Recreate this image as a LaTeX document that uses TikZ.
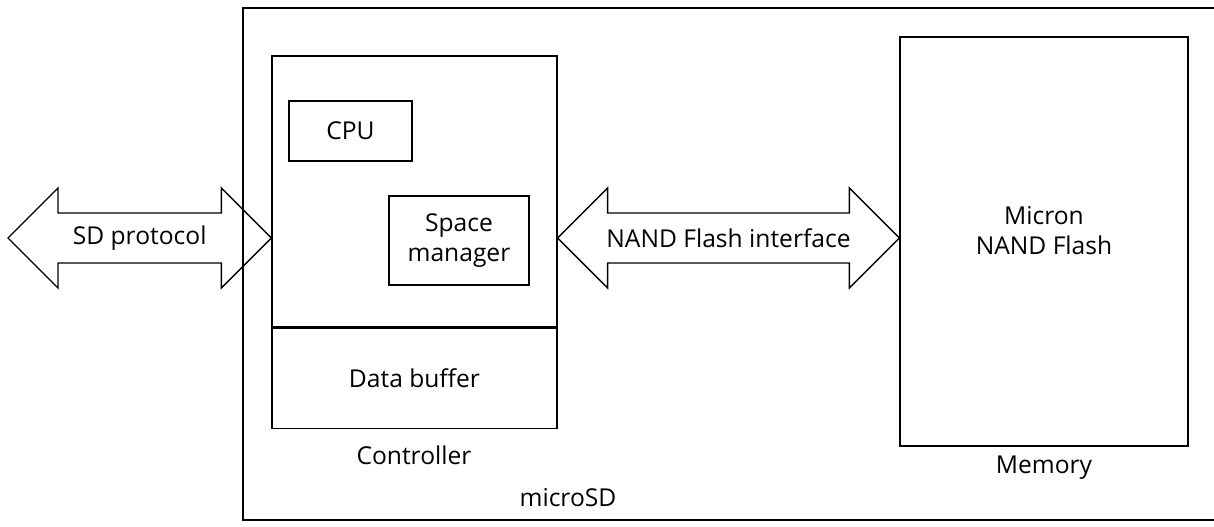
\documentclass[tikz,border=0pt]{standalone}
\usepackage{fontspec}
\setmainfont{Open Sans}
\usetikzlibrary{calc}

\tikzset{
  box/.style={draw, line width=0.8pt, inner sep=0pt},
  txt/.style={inner sep=0pt, align=center},
}

% wide double arrow between two points
\newcommand{\fatarrow}[2]{%
  \draw let \p1=(#1), \p2=(#2) in
    (\p1) -- (\x1+1cm,\y1+1cm) -- (\x1+1cm,\y1+0.5cm) -- (\x2-1cm,\y1+0.5cm)
    -- (\x2-1cm,\y1+1cm) -- (\p2) -- (\x2-1cm,\y1-1cm) -- (\x2-1cm,\y1-0.5cm)
    -- (\x1+1cm,\y1-0.5cm) -- (\x1+1cm,\y1-1cm) -- cycle;}

\begin{document}
\begin{tikzpicture}[x=0.02cm, y=-0.02cm, line width=0.8pt,
    font=\fontsize{14}{17}\selectfont]
    % Page
    \useasboundingbox (0,0) rectangle (1214,527);
    \clip (0,0) rectangle (1214,527);

    % microSD card
    \node[box, minimum width=19.74cm, minimum height=10.24cm] (card) at (736.5,264) {};
    \node[txt] (cardlbl) at (568,498) {microSD};

    % Controller
    \node[box, minimum width=5.7cm, minimum height=5.42cm] (core) at (414.5,191.5) {};
    \node[box, minimum width=5.7cm, minimum height=2cm, anchor=north] (buf) at (core.south) {Data buffer};
    \node[txt] (ctrllbl) at (414,455) {Controller};
    \node[box, minimum width=2.46cm, minimum height=1.2cm] (cpu) at (350.5,131) {CPU};
    \node[box, minimum width=2.8cm, minimum height=1.78cm, align=center] (spm) at (459,240.5) {Space\\manager};

    % Memory
    \node[box, minimum width=5.76cm, minimum height=8.18cm] (mem) at (1044,241.5) {};
    \node[txt] (memtxt) at (1044,231) {Micron\\NAND Flash};
    \node[txt] (memlbl) at (1044,468) {Memory};

    % Interfaces
    \coordinate (hostL) at (8,238);
    \coordinate (hostR) at (hostL -| core.west);
    \coordinate (nandL) at (hostL -| core.east);
    \coordinate (nandR) at (hostL -| mem.west);
    \fatarrow{hostL}{hostR}
    \fatarrow{nandL}{nandR}
    \node[txt] (sdp) at ($(hostL)!0.5!(hostR)$) {SD protocol};
    \node[txt] (nandp) at ($(nandL)!0.5!(nandR)$) {NAND Flash interface};
\end{tikzpicture}
\end{document}
